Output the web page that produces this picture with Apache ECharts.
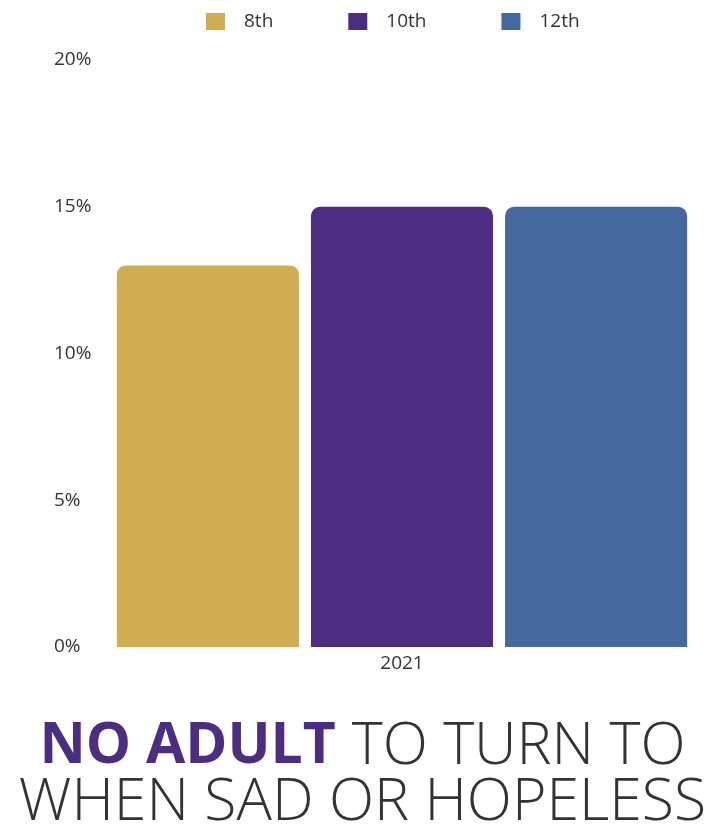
<!DOCTYPE html>
<html>
<head>
<meta charset="utf-8">
<script src="https://cdn.jsdelivr.net/npm/echarts@6/dist/echarts.min.js"></script>
<style>
  html, body { margin: 0; padding: 0; background: #fff; }
  #chart { width: 725px; height: 833px; }
</style>
</head>
<body>
<div id="chart"></div>
<script>
// Share of students reporting no adult to turn to, by grade
const years = ['2021'];
const grades = ['8th', '10th', '12th'];
const values8th = [13];
const values10th = [15];
const values12th = [15];
const yTicks = [0, 5, 10, 15, 20];
const gradeColors = ['#d1ad52', '#4b2d82', '#45699f'];

const seriesValues = [values8th, values10th, values12th];

const chart = echarts.init(document.getElementById('chart'));
chart.setOption({
  animation: false,
  textStyle: { fontFamily: 'Open Sans' },
  legend: {
    top: 7,
    left: 201,
    itemWidth: 19,
    itemHeight: 17,
    itemGap: 75,
    icon: 'rect',
    textStyle: { fontSize: 19, color: '#333', padding: [0, 0, 0, 14] },
    data: grades
  },
  title: {
    left: 'center',
    top: 714,
    text: '{b|NO ADULT}{s| }{r|TO TURN TO}\n{r|WHEN SAD OR HOPELESS}',
    textStyle: {
      rich: {
        b: { fontSize: 57, fontWeight: 'bold', color: '#4b2d82', fontFamily: 'Open Sans', lineHeight: 56 },
        s: { fontSize: 57, width: 16, lineHeight: 56 },
        r: { fontSize: 59, fontWeight: 300, color: '#333', fontFamily: 'Open Sans', lineHeight: 56 }
      }
    }
  },
  grid: { left: 105, right: 26, top: 60, bottom: 186 },
  xAxis: {
    type: 'category',
    data: years,
    axisLine: { show: false },
    axisTick: { show: false },
    axisLabel: { fontSize: 19, color: '#333', margin: 7 }
  },
  yAxis: {
    type: 'value',
    min: yTicks[0],
    max: yTicks[yTicks.length - 1],
    interval: 5,
    splitLine: { show: false },
    axisLine: { show: false },
    axisLabel: { fontSize: 19, color: '#333', margin: 51, align: 'left', formatter: v => v + '%' }
  },
  series: grades.map((g, i) => ({
    name: g,
    type: 'bar',
    data: seriesValues[i],
    barGap: '6.6%',
    barCategoryGap: '4%',
    itemStyle: { color: gradeColors[i], borderRadius: [9, 9, 0, 0] }
  }))
});
</script>
</body>
</html>
